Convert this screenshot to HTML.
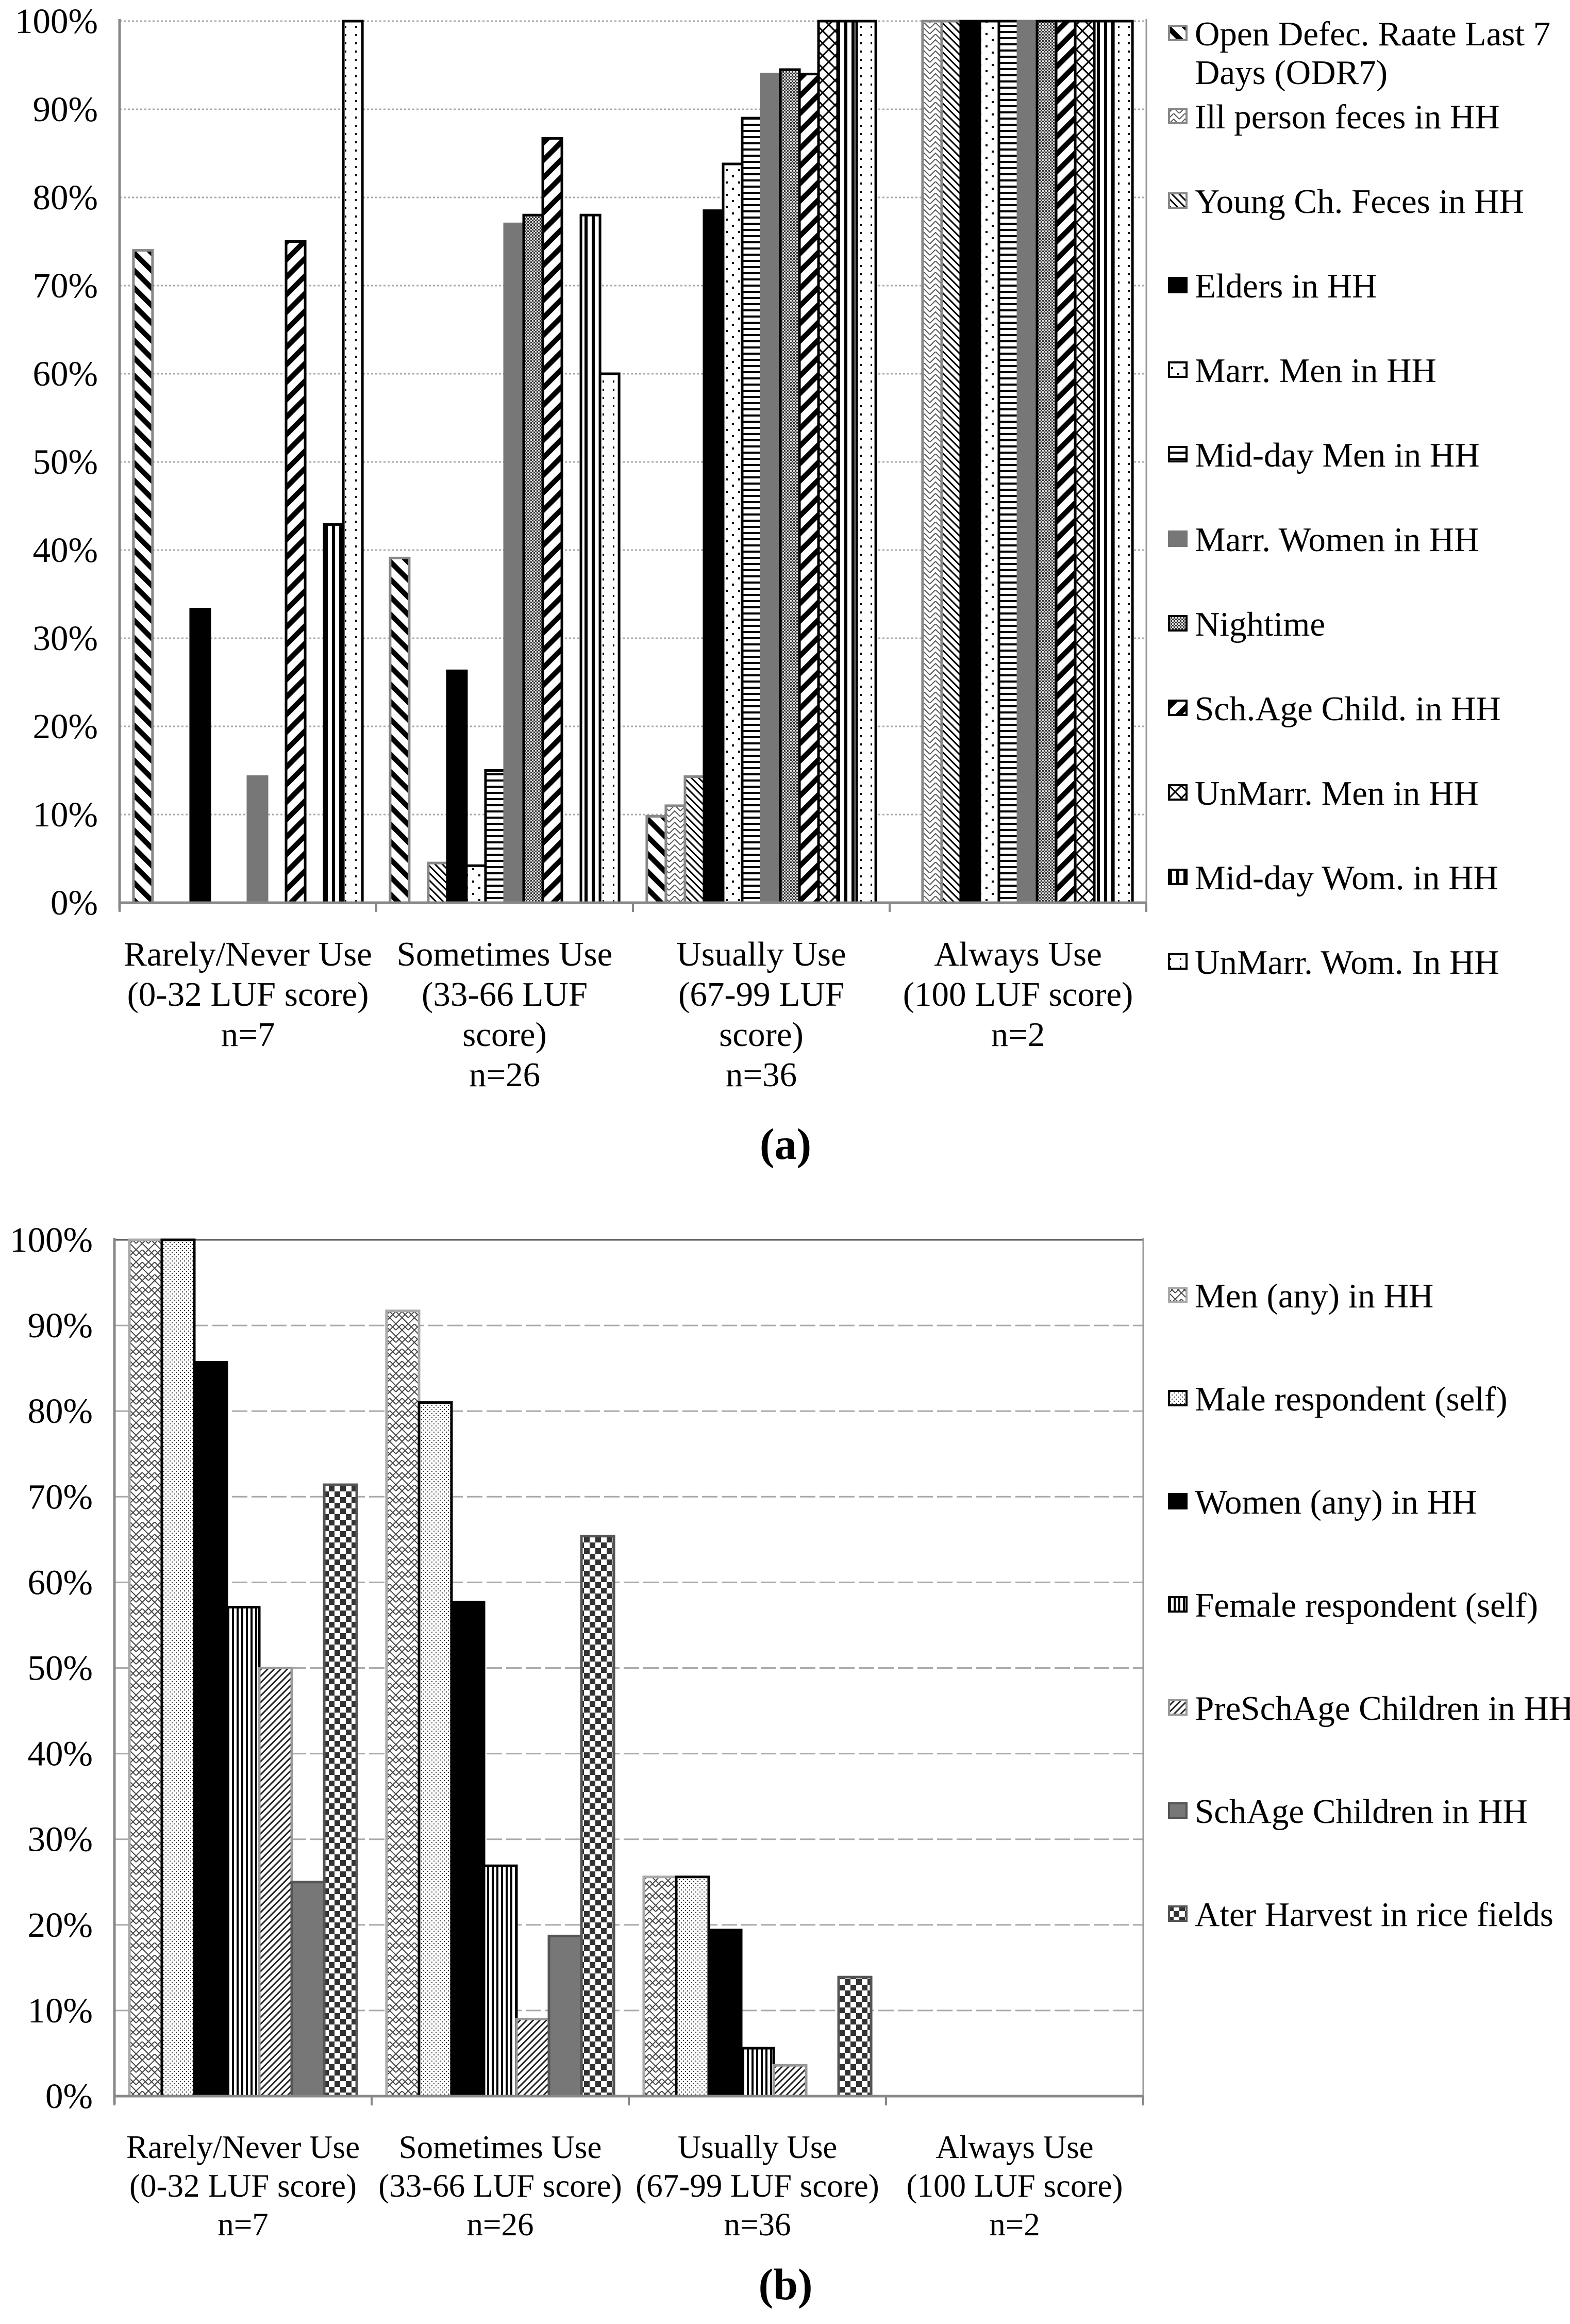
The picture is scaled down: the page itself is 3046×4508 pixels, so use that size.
<!DOCTYPE html>
<html><head><meta charset="utf-8"><style>
html,body{margin:0;padding:0;background:#fff;}
svg{display:block;font-family:"Liberation Serif","Times New Roman",serif;}
</style></head><body>
<svg id="chart" width="3046" height="4508" viewBox="0 0 3046 4508" xmlns="http://www.w3.org/2000/svg">
<defs>
<pattern id="pA0" patternUnits="userSpaceOnUse" width="24" height="24" patternTransform="rotate(-45)"><rect width="24" height="24" fill="#fff"/><rect width="10" height="24" fill="#000"/></pattern>
<pattern id="pA1" patternUnits="userSpaceOnUse" width="22" height="22"><rect width="22" height="22" fill="#fff"/><path d="M0 11 L11 0 L22 11 M0 22 L11 11 L22 22" stroke="#555" stroke-width="2" fill="none"/></pattern>
<pattern id="pA2" patternUnits="userSpaceOnUse" width="10" height="10" patternTransform="rotate(-45)"><rect width="10" height="10" fill="#fff"/><rect width="3" height="10" fill="#000"/></pattern>
<pattern id="pA4" patternUnits="userSpaceOnUse" width="24" height="24"><rect width="24" height="24" fill="#fff"/><rect x="4" y="4" width="4" height="4" fill="#000"/><rect x="16" y="16" width="4" height="4" fill="#000"/></pattern>
<pattern id="pA5" patternUnits="userSpaceOnUse" width="12" height="12"><rect width="12" height="12" fill="#fff"/><rect width="12" height="4" fill="#000"/></pattern>
<pattern id="pA7" patternUnits="userSpaceOnUse" width="6" height="6"><rect width="6" height="6" fill="#ddd"/><rect width="3" height="3" fill="#333"/><rect x="3" y="3" width="3" height="3" fill="#333"/></pattern>
<pattern id="pA8" patternUnits="userSpaceOnUse" width="24" height="24" patternTransform="rotate(45)"><rect width="24" height="24" fill="#fff"/><rect width="10" height="24" fill="#000"/></pattern>
<pattern id="pA9" patternUnits="userSpaceOnUse" width="24" height="24"><rect width="24" height="24" fill="#fff"/><path d="M0 0 L24 24 M24 0 L0 24" stroke="#000" stroke-width="3"/></pattern>
<pattern id="pA10" patternUnits="userSpaceOnUse" width="14" height="14"><rect width="14" height="14" fill="#fff"/><rect width="6" height="14" fill="#000"/></pattern>
<pattern id="pA11" patternUnits="userSpaceOnUse" width="20" height="16"><rect width="20" height="16" fill="#fff"/><rect x="9" y="2" width="3" height="4" fill="#000"/></pattern>
<pattern id="pB0" patternUnits="userSpaceOnUse" width="24" height="24"><rect width="24" height="24" fill="#fff"/><path d="M0 12 L12 0 L24 12 M0 24 L12 12 L24 24 M0 0 L12 12 L24 0" stroke="#444" stroke-width="2" fill="none"/></pattern>
<pattern id="pB1" patternUnits="userSpaceOnUse" width="8" height="8"><rect width="8" height="8" fill="#fff"/><rect x="1" y="1" width="2" height="2" fill="#333"/><rect x="5" y="5" width="2" height="2" fill="#333"/></pattern>
<pattern id="pB3" patternUnits="userSpaceOnUse" width="9" height="9"><rect width="9" height="9" fill="#fff"/><rect width="4" height="9" fill="#000"/></pattern>
<pattern id="pB4" patternUnits="userSpaceOnUse" width="9" height="9" patternTransform="rotate(45)"><rect width="9" height="9" fill="#fff"/><rect width="3" height="9" fill="#222"/></pattern>
<pattern id="pB6" patternUnits="userSpaceOnUse" width="22" height="22"><rect width="22" height="22" fill="#fff"/><rect width="11" height="11" fill="#333"/><rect x="11" y="11" width="11" height="11" fill="#333"/></pattern>
</defs>
<g id="gA"></g>
<g id="gB"></g>
<text x="1524" y="2248" font-size="86" font-weight="bold" text-anchor="middle">(a)</text>
<text x="1524" y="4460" font-size="86" font-weight="bold" text-anchor="middle">(b)</text>
</svg>
<script>
const NS = "http://www.w3.org/2000/svg";
const categoryLinesA = [["Rarely/Never Use","(0-32 LUF score)","n=7"],["Sometimes Use","(33-66 LUF","score)","n=26"],["Usually Use","(67-99 LUF","score)","n=36"],["Always Use","(100 LUF score)","n=2"]];
const categoryLinesB = [["Rarely/Never Use","(0-32 LUF score)","n=7"],["Sometimes Use","(33-66 LUF score)","n=26"],["Usually Use","(67-99 LUF score)","n=36"],["Always Use","(100 LUF score)","n=2"]];
const seriesNamesA = ["Open Defec. Raate Last 7|Days (ODR7)","Ill person feces in HH","Young Ch. Feces in HH","Elders in HH","Marr. Men in HH","Mid-day Men in HH","Marr. Women in HH","Nightime","Sch.Age Child. in HH","UnMarr. Men in HH","Mid-day Wom. in HH","UnMarr. Wom. In HH"];
const valuesA_rarely = [74, 0, 0, 33.3, 0, 0, 14.3, 0, 75, 0, 42.9, 100];
const valuesA_sometimes = [39.1, 0, 4.5, 26.3, 4.2, 15, 77, 78, 86.7, 0, 78, 60];
const valuesA_usually = [9.8, 11, 14.3, 78.5, 83.8, 89, 94, 94.5, 94, 100, 100, 100];
const valuesA_always = [0, 100, 100, 100, 100, 100, 100, 100, 100, 100, 100, 100];
const seriesNamesB = ["Men (any) in HH","Male respondent (self)","Women (any) in HH","Female respondent (self)","PreSchAge Children in HH","SchAge Children in HH","Ater Harvest in rice fields"];
const valuesB_rarely = [100, 100, 85.7, 57.1, 50, 25, 71.4];
const valuesB_sometimes = [91.7, 81, 57.7, 26.9, 9, 18.7, 65.4];
const valuesB_usually = [25.6, 25.6, 19.4, 5.6, 3.6, 0, 13.9];
const valuesB_always = [0, 0, 0, 0, 0, 0, 0];
const tickLabels = ["0%","10%","20%","30%","40%","50%","60%","70%","80%","90%","100%"];
const tickValues = [0,10,20,30,40,50,60,70,80,90,100];

const fillsA = ["url(#pA0)","url(#pA1)","url(#pA2)","#000","url(#pA4)","url(#pA5)","#777","url(#pA7)","url(#pA8)","url(#pA9)","url(#pA10)","url(#pA11)"];
const strokesA = ["#888","#888","#888","#000","#000","#000","#777","#000","#000","#000","#000","#000"];
const fillsB = ["url(#pB0)","url(#pB1)","#000","url(#pB3)","url(#pB4)","#777","url(#pB6)"];
const strokesB = ["#aaa","#000","#000","#000","#999","#555","#555"];

function mk(tag, attrs, parent){const e=document.createElementNS(NS,tag);for(const k in attrs)e.setAttribute(k,attrs[k]);parent.appendChild(e);return e;}

function drawChart(g, cfg){
  const {x0,x1,yTop,yBot,groups,cats,fills,strokes,names,padFrac,gridDash,legend} = cfg;
  const yScale = v => yBot - (yBot-yTop)*v/100;
  const gw = (x1-x0)/groups.length;
  tickValues.forEach((t,i)=>{
    const y=yScale(t);
    if(t>0){const gl=mk("line",{x1:x0,x2:x1,y1:y,y2:y,stroke:t===100&&cfg.topDark?"#555":"#aaa","stroke-width":3,"stroke-dasharray":t===100&&cfg.topDark?"none":gridDash},g);
      
      }
    const tl=mk("text",{x:x0-42,y:y+23,"font-size":69,"text-anchor":"end"},g);
    tl.textContent=tickLabels[i];
    
    
  });
  const rb=mk("line",{x1:x1,x2:x1,y1:yTop-4,y2:yBot+12,stroke:"#999","stroke-width":3},g);
  
  
  groups.forEach((vals,gi)=>{
    const gx=x0+gi*gw, pad=gw*padFrac, bw=(gw-2*pad)/vals.length;
    vals.forEach((v,si)=>{
      if(v<=0) return;
      const y=yScale(v);
      const r=mk("rect",{x:gx+pad+si*bw,y:y,width:bw,height:yBot-y,fill:fills[si],stroke:strokes[si],"stroke-width":5},g);
      
      
    });
    cats[gi].forEach((line,li)=>{
      const t=mk("text",{x:gx+gw/2,y:cfg.labelY+li*cfg.labelDy,"font-size":cfg.labelSize,"text-anchor":"middle"},g);
      t.textContent=line;
      
      
    });
  });
  const ya=mk("line",{x1:x0,x2:x0,y1:yTop-4,y2:yBot+15,stroke:"#888","stroke-width":5},g);
  
  
  const xa=mk("line",{x1:x0,x2:x1,y1:yBot,y2:yBot,stroke:"#888","stroke-width":5},g);
  
  
  for(let i=0;i<=groups.length;i++){
    const tk=mk("line",{x1:x0+i*gw,x2:x0+i*gw,y1:yBot,y2:yBot+18,stroke:"#888","stroke-width":4},g);
    
    
  }
  names.forEach((nm,i)=>{
    const cy=legend.y(i);
    const m=mk("rect",{x:legend.x,y:cy-16,width:34,height:28,fill:fills[i],stroke:strokes[i],"stroke-width":4},g);
    
    
    nm.split("|").forEach((ln,k)=>{
      const t=mk("text",{x:legend.x+50,y:cy+22+k*75,"font-size":67},g);
      t.textContent=ln;
      
      
    });
  });
}

drawChart(document.getElementById("gA"),{
  x0:232,x1:2224,yTop:41,yBot:1751,
  groups:[valuesA_rarely,valuesA_sometimes,valuesA_usually,valuesA_always],
  cats:categoryLinesA,fills:fillsA,strokes:strokesA,names:seriesNamesA,padFrac:0.054,
  gridDash:"4 4",topDark:false,labelY:1873,labelDy:78,labelSize:67,
  legend:{x:2268,y:i=>i===0?66:227+(i-1)*164}
});
drawChart(document.getElementById("gB"),{
  x0:222,x1:2218,yTop:2405,yBot:4066,
  groups:[valuesB_rarely,valuesB_sometimes,valuesB_usually,valuesB_always],
  cats:categoryLinesB,fills:fillsB,strokes:strokesB,names:seriesNamesB,padFrac:0.058,
  gridDash:"30 8",topDark:true,labelY:4186,labelDy:75,labelSize:63,
  legend:{x:2268,y:i=>2514+i*200}
});
</script>
</body></html>
